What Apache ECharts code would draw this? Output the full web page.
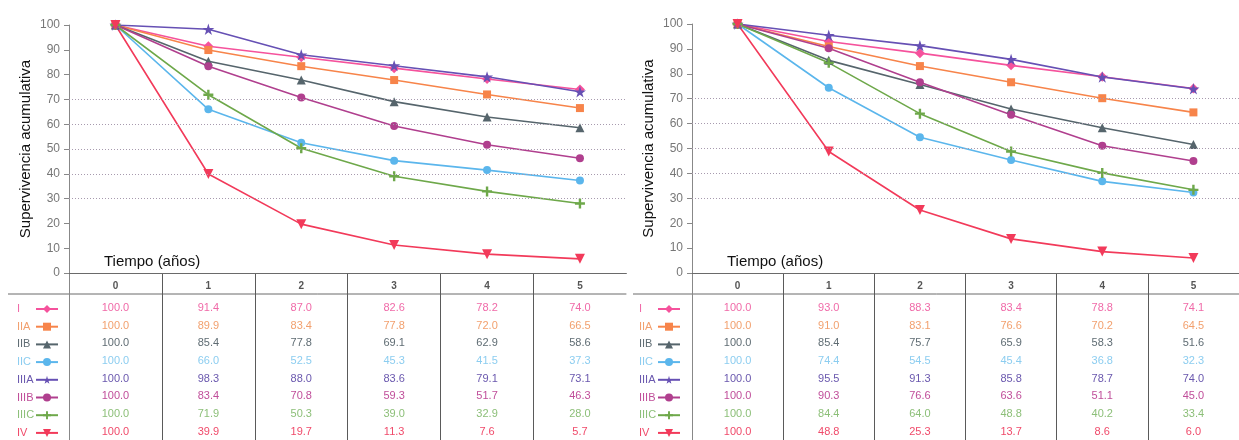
<!DOCTYPE html>
<html>
<head>
<meta charset="utf-8">
<script src="https://cdn.jsdelivr.net/npm/echarts@6/dist/echarts.min.js"></script>
<style>
html,body{margin:0;padding:0;background:#fff;}
#chart{width:1239px;height:440px;}
</style>
</head>
<body>
<div id="chart"></div>
<script>
// ---------- DATA ----------
const categories = ['0', '1', '2', '3', '4', '5'];
const seriesNames = ['I', 'IIA', 'IIB', 'IIC', 'IIIA', 'IIIB', 'IIIC', 'IV'];
const yMin = 0, yMax = 100, yInterval = 10;
const gridValues = [30, 40, 50, 60, 70];
const xTitle = 'Tiempo (años)';
const yTitle = 'Supervivencia acumulativa';

// left panel
const leftI    = [100.0, 91.4, 87.0, 82.6, 78.2, 74.0];
const leftIIA  = [100.0, 89.9, 83.4, 77.8, 72.0, 66.5];
const leftIIB  = [100.0, 85.4, 77.8, 69.1, 62.9, 58.6];
const leftIIC  = [100.0, 66.0, 52.5, 45.3, 41.5, 37.3];
const leftIIIA = [100.0, 98.3, 88.0, 83.6, 79.1, 73.1];
const leftIIIB = [100.0, 83.4, 70.8, 59.3, 51.7, 46.3];
const leftIIIC = [100.0, 71.9, 50.3, 39.0, 32.9, 28.0];
const leftIV   = [100.0, 39.9, 19.7, 11.3, 7.6, 5.7];

// right panel
const rightI    = [100.0, 93.0, 88.3, 83.4, 78.8, 74.1];
const rightIIA  = [100.0, 91.0, 83.1, 76.6, 70.2, 64.5];
const rightIIB  = [100.0, 85.4, 75.7, 65.9, 58.3, 51.6];
const rightIIC  = [100.0, 74.4, 54.5, 45.4, 36.8, 32.3];
const rightIIIA = [100.0, 95.5, 91.3, 85.8, 78.7, 74.0];
const rightIIIB = [100.0, 90.3, 76.6, 63.6, 51.1, 45.0];
const rightIIIC = [100.0, 84.4, 64.0, 48.8, 40.2, 33.4];
const rightIV   = [100.0, 48.8, 25.3, 13.7, 8.6, 6.0];

const panels = [
  [leftI, leftIIA, leftIIB, leftIIC, leftIIIA, leftIIIB, leftIIIC, leftIV],
  [rightI, rightIIA, rightIIB, rightIIC, rightIIIA, rightIIIB, rightIIIC, rightIV]
];

// ---------- STYLE ----------
const FONT = 'Liberation Sans, Arial, sans-serif';
const lineColors = ['#f5529c', '#f7844a', '#56656c', '#5bb6ec', '#6650b4', '#b03f8e', '#6ea84a', '#f23a5a'];
const textColors = ['#f06aa8', '#f2a06e', '#5f6c73', '#8ccdf0', '#6a58ae', '#c04e9a', '#8cbf78', '#f04a6a'];
const STAR = 'path://M50,0 L61,35 L98,35 L68,57 L79,91 L50,70 L21,91 L32,57 L2,35 L39,35 Z';
const PLUS = 'path://M38,0 H62 V38 H100 V62 H62 V100 H38 V62 H0 V38 H38 Z';
const symbols = ['diamond', 'rect', 'triangle', 'circle', STAR, 'circle', PLUS, 'triangle'];
const symbolSizes = [10, 8, 9, 8, 12, 8, 10, 10];
const symbolRotates = [0, 0, 0, 0, 0, 0, 0, 180];

const layout = [
  {plotLeft: 69, plotTop: 25, tableLeft: 8, legendLeft: 17, titleLeft: 104},
  {plotLeft: 692, plotTop: 24, tableLeft: 633, legendLeft: 639, titleLeft: 727}
];
const colW = 92.9;
const axisY = 273;

const chart = echarts.init(document.getElementById('chart'), null, {renderer: 'canvas'});

const grids = [], xAxes = [], yAxes = [], series = [], legends = [], graphics = [];

function fmt(v) { return v.toFixed(1); }

panels.forEach((data, p) => {
  const L = layout[p];
  const plotW = colW * categories.length;
  grids.push({left: L.plotLeft, top: L.plotTop, width: plotW, height: axisY - L.plotTop, containLabel: false});
  grids.push({left: L.plotLeft, top: axisY, width: plotW, height: 440 - axisY, containLabel: false});

  const rich = {
    h: {fontSize: 10, fontWeight: 'bold', color: '#555', lineHeight: 25, fontFamily: FONT}
  };
  seriesNames.forEach((n, k) => {
    rich['c' + k] = {fontSize: 11, color: textColors[k], lineHeight: 17.7, fontFamily: FONT};
  });

  xAxes.push({
    gridIndex: p * 2, type: 'category', data: categories, boundaryGap: true,
    axisLine: {show: true, lineStyle: {color: '#6a6a6a', width: 1}},
    axisTick: {show: false},
    splitLine: {show: false},
    axisLabel: {
      show: true, margin: 1, interval: 0,
      formatter: function (value, idx) {
        let s = '{h|' + value + '}';
        data.forEach((arr, k) => { s += '\n{c' + k + '|' + fmt(arr[idx]) + '}'; });
        return s;
      },
      rich: rich
    }
  });
  xAxes.push({
    gridIndex: p * 2 + 1, type: 'category', data: categories, boundaryGap: true,
    axisLine: {show: false}, axisTick: {show: false}, axisLabel: {show: false},
    splitLine: {show: true, showMaxLine: false, lineStyle: {color: '#5a5a5a', width: 1}}
  });

  yAxes.push({
    gridIndex: p * 2, type: 'value', min: yMin, max: yMax, interval: yInterval,
    name: yTitle, nameLocation: 'middle', nameGap: 36, nameRotate: 90,
    nameTextStyle: {fontSize: 15, color: '#111', fontFamily: FONT},
    axisLine: {show: true, lineStyle: {color: '#888', width: 1}},
    axisTick: {show: true, length: 5, lineStyle: {color: '#888'}},
    axisLabel: {margin: 9, fontSize: 12, color: '#777', fontFamily: FONT},
    splitLine: {show: false}
  });
  yAxes.push({
    gridIndex: p * 2 + 1, type: 'value', min: 0, max: 1, show: true,
    axisLine: {show: true, lineStyle: {color: '#888'}}, axisTick: {show: false}, axisLabel: {show: false},
    splitLine: {show: false}
  });

  data.forEach((arr, k) => {
    const s = {
      type: 'line', name: seriesNames[k], xAxisIndex: p * 2, yAxisIndex: p * 2,
      data: arr, symbol: symbols[k], symbolSize: symbolSizes[k], symbolRotate: symbolRotates[k],
      symbolKeepAspect: true, showAllSymbol: true,
      lineStyle: {color: lineColors[k], width: 1.6},
      itemStyle: {color: lineColors[k], borderWidth: 0},
      animation: false, z: 3
    };
    if (k === 0) {
      s.markLine = {
        silent: true, symbol: 'none', label: {show: false}, animation: false,
        lineStyle: {type: [1, 2], color: '#a79aae', width: 1},
        emphasis: {disabled: true},
        data: gridValues.map(v => ({yAxis: v}))
      };
    }
    series.push(s);
  });

  legends.push({
    orient: 'vertical', left: L.legendLeft, top: 303, itemGap: 5.7, itemWidth: 22, itemHeight: 10,
    align: 'right', selectedMode: false, padding: 0,
    formatter: '{a|{name}}',
    textStyle: {fontSize: 11, lineHeight: 12, fontFamily: FONT,
      rich: {a: {width: 14, align: 'left', fontSize: 11, lineHeight: 12, fontFamily: FONT}}},
    data: seriesNames.map((n, k) => ({name: n, textStyle: {color: textColors[k]}}))
  });

  graphics.push({
    type: 'line', shape: {x1: L.tableLeft, y1: 294, x2: L.plotLeft + plotW, y2: 294},
    style: {stroke: '#6a6a6a', lineWidth: 1}, silent: true
  });
  graphics.push({
    type: 'text', left: L.titleLeft, top: 254,
    style: {text: xTitle, fontSize: 15, fill: '#111', fontFamily: FONT}
  });
});

chart.setOption({
  backgroundColor: '#fff',
  animation: false,
  grid: grids,
  xAxis: xAxes,
  yAxis: yAxes,
  legend: legends,
  series: series,
  graphic: graphics
});
</script>
</body>
</html>
